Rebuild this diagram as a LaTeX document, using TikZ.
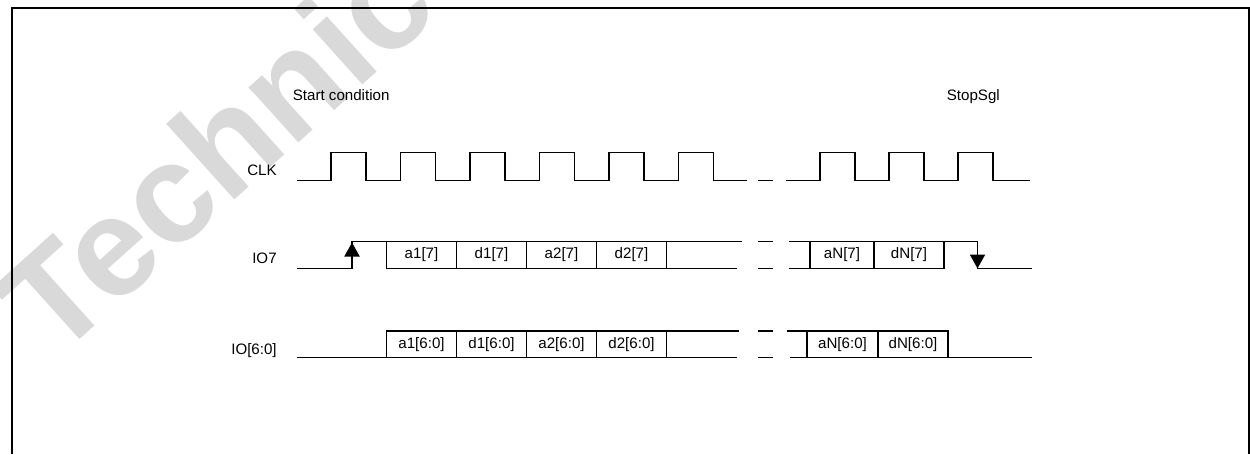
\documentclass[tikz,border=0pt]{standalone}
\usepackage{fontspec}
\setmainfont{Liberation Sans}
\usetikzlibrary{arrows.meta}

\tikzset{
    wave/.style={line width=1.1pt},
    frame/.style={line width=1.1pt},
    sig/.style={anchor=base east, inner sep=0, font=\fontsize{8.6}{10}\selectfont},
    note/.style={anchor=base west, inner sep=0, font=\fontsize{8.6}{10}\selectfont},
    cell/.style={font=\fontsize{8.6}{10}\selectfont},
    edgetip/.style={-{Triangle[width=0.3cm,length=0.28cm]}},
    watermark/.style={anchor=base west, inner sep=0, rotate=42, text=black!15,
        font=\fontsize{80}{80}\bfseries\selectfont}
}

\begin{document}
\begin{tikzpicture}[x=0.02cm,y=-0.02cm]

    \useasboundingbox (0,0) rectangle (1250,454);

    \node[watermark] (wm) at (55,362) {Technic};

    \draw[frame] (12,454) -- (12,8) -- (1249,8) -- (1249,454);

    \node[note] (start) at (292.5,100) {Start condition};
    \node[note] (stop) at (946.5,100) {StopSgl};

    \node[sig] (clk) at (277,175) {CLK};
    \node[sig] (io7) at (277,263.5) {IO7};
    \node[sig] (io60) at (277,354) {IO[6:0]};

    \draw[wave] (296.5,180.5) \foreach \r in {331,400.5,470,539.5,609,678.5} {
        -- (\r,180.5) -- (\r,152.5) -- ++(35,0) -- ++(0,28) } -- (746.5,180.5);
    \draw[wave] (758,180.5) -- (773,180.5);
    \draw[wave] (786,180.5) \foreach \r in {820,889,958} {
        -- (\r,180.5) -- (\r,152.5) -- ++(35,0) -- ++(0,28) } -- (1030,180.5);

    \draw[wave] (296.5,268.5) -- (352,268.5) -- (352,241.5) -- (741.5,241.5);
    \draw[wave,edgetip] (352,268.5) -- (352,242.5);
    \draw[wave] (386.5,241.5) -- (386.5,268.5) -- (736.5,268.5);
    \foreach \x in {456.5,526.5,596.5,666.5}
        \draw[wave] (\x,241.5) -- (\x,268.5);
    \draw[wave] (758,241.5) -- (773,241.5) (758,268.5) -- (773,268.5);
    \draw[wave] (789,241.5) -- (977.5,241.5) -- (977.5,268.5) -- (1031.5,268.5);
    \draw[wave,edgetip] (977.5,241.5) -- (977.5,268.5);
    \draw[wave] (789,268.5) -- (944.5,268.5);
    \foreach \x in {810,874,944}
        \draw[wave] (\x,241.5) -- (\x,268.5);

    \node[cell] (io7 a1) at (421.5,255) {a1[7]};
    \node[cell] (io7 d1) at (491.5,255) {d1[7]};
    \node[cell] (io7 a2) at (561.5,255) {a2[7]};
    \node[cell] (io7 d2) at (631.5,255) {d2[7]};
    \node[cell] (io7 aN) at (842,255) {aN[7]};
    \node[cell] (io7 dN) at (909,255) {dN[7]};

    \draw[wave] (297,357.5) -- (736.5,357.5);
    \draw[wave] (386.5,357.5) -- (386.5,331) -- (739,331);
    \foreach \x in {456.5,526.5,596.5,666.5}
        \draw[wave] (\x,331) -- (\x,357.5);
    \draw[wave] (758,331) -- (773,331) (758,357.5) -- (773,357.5);
    \draw[wave] (787,331) -- (948,331) -- (948,357.5);
    \draw[wave] (790,357.5) -- (1031.5,357.5);
    \foreach \x in {807,878}
        \draw[wave] (\x,331) -- (\x,357.5);

    \node[cell] (io60 a1) at (421.5,344.5) {a1[6:0]};
    \node[cell] (io60 d1) at (491.5,344.5) {d1[6:0]};
    \node[cell] (io60 a2) at (561.5,344.5) {a2[6:0]};
    \node[cell] (io60 d2) at (631.5,344.5) {d2[6:0]};
    \node[cell] (io60 aN) at (842.5,344.5) {aN[6:0]};
    \node[cell] (io60 dN) at (913,344.5) {dN[6:0]};

\end{tikzpicture}
\end{document}
